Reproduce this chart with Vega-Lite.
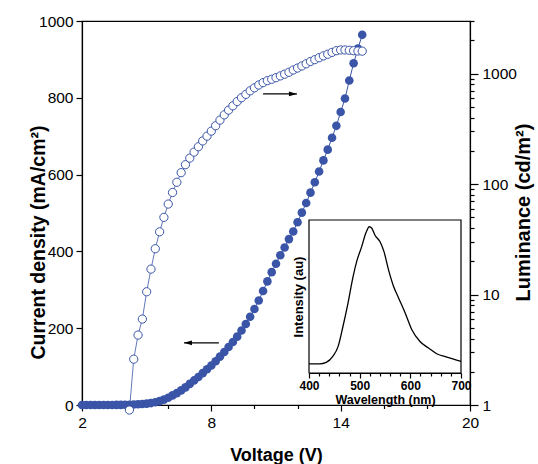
{
  "$schema": "https://vega.github.io/schema/vega-lite/v6.json",
  "width": 388,
  "height": 384,
  "autosize": {"type": "none"},
  "padding": {"left": 82, "top": 21, "right": 68, "bottom": 59},
  "background": "white",
  "config": {
    "view": {"stroke": "black", "strokeWidth": 1.2},
    "axis": {
      "grid": false,
      "domainColor": "black",
      "domainWidth": 1.2,
      "tickColor": "black",
      "tickWidth": 1.2,
      "labelColor": "black",
      "titleColor": "black",
      "labelFont": "Liberation Sans",
      "titleFont": "Liberation Sans",
      "titleFontWeight": "bold",
      "labelFontSize": 15.5,
      "labelOverlap": false
    }
  },
  "datasets": {
    "jv": [
      {"V": 2.0, "J": 0}, {"V": 2.2, "J": 0}, {"V": 2.4, "J": 0}, {"V": 2.6, "J": 0}, {"V": 2.8, "J": 0},
      {"V": 3.0, "J": 0.1}, {"V": 3.2, "J": 0.1}, {"V": 3.4, "J": 0.1}, {"V": 3.6, "J": 0.2}, {"V": 3.8, "J": 0.3},
      {"V": 4.0, "J": 0.5}, {"V": 4.2, "J": 0.8}, {"V": 4.4, "J": 1.2}, {"V": 4.6, "J": 1.8}, {"V": 4.8, "J": 2.5},
      {"V": 5.0, "J": 3.5}, {"V": 5.2, "J": 5}, {"V": 5.4, "J": 7}, {"V": 5.6, "J": 10}, {"V": 5.8, "J": 14},
      {"V": 6.0, "J": 19}, {"V": 6.2, "J": 25}, {"V": 6.4, "J": 31}, {"V": 6.6, "J": 38}, {"V": 6.8, "J": 46},
      {"V": 7.0, "J": 55}, {"V": 7.2, "J": 64}, {"V": 7.4, "J": 73}, {"V": 7.6, "J": 83}, {"V": 7.8, "J": 93},
      {"V": 8.0, "J": 103}, {"V": 8.2, "J": 114}, {"V": 8.4, "J": 126}, {"V": 8.6, "J": 138}, {"V": 8.8, "J": 151},
      {"V": 9.0, "J": 164}, {"V": 9.2, "J": 178}, {"V": 9.4, "J": 194}, {"V": 9.6, "J": 211}, {"V": 9.8, "J": 230},
      {"V": 10.0, "J": 250}, {"V": 10.2, "J": 272}, {"V": 10.4, "J": 297}, {"V": 10.6, "J": 322}, {"V": 10.8, "J": 346},
      {"V": 11.0, "J": 368}, {"V": 11.2, "J": 390}, {"V": 11.4, "J": 410}, {"V": 11.6, "J": 432}, {"V": 11.8, "J": 452},
      {"V": 12.0, "J": 476}, {"V": 12.2, "J": 501}, {"V": 12.4, "J": 526}, {"V": 12.6, "J": 553}, {"V": 12.8, "J": 580},
      {"V": 13.0, "J": 608}, {"V": 13.2, "J": 637}, {"V": 13.4, "J": 665}, {"V": 13.6, "J": 696}, {"V": 13.8, "J": 727},
      {"V": 14.0, "J": 763}, {"V": 14.2, "J": 798}, {"V": 14.4, "J": 845}, {"V": 14.6, "J": 890}, {"V": 14.8, "J": 928},
      {"V": 15.0, "J": 964}
    ],
    "lv": [
      {"V": 4.2, "L": 0.9}, {"V": 4.4, "L": 2.6}, {"V": 4.6, "L": 4.3}, {"V": 4.8, "L": 6.0},
      {"V": 5.0, "L": 10.6}, {"V": 5.2, "L": 17}, {"V": 5.4, "L": 26}, {"V": 5.6, "L": 37}, {"V": 5.8, "L": 50},
      {"V": 6.0, "L": 66}, {"V": 6.2, "L": 84}, {"V": 6.4, "L": 104}, {"V": 6.6, "L": 127}, {"V": 6.8, "L": 150},
      {"V": 7.0, "L": 172}, {"V": 7.2, "L": 195}, {"V": 7.4, "L": 218}, {"V": 7.6, "L": 246}, {"V": 7.8, "L": 272},
      {"V": 8.0, "L": 302}, {"V": 8.2, "L": 338}, {"V": 8.4, "L": 380}, {"V": 8.6, "L": 424}, {"V": 8.8, "L": 468},
      {"V": 9.0, "L": 512}, {"V": 9.2, "L": 560}, {"V": 9.4, "L": 606}, {"V": 9.6, "L": 650}, {"V": 9.8, "L": 700},
      {"V": 10.0, "L": 745}, {"V": 10.2, "L": 790}, {"V": 10.4, "L": 830}, {"V": 10.6, "L": 865}, {"V": 10.8, "L": 890},
      {"V": 11.0, "L": 920}, {"V": 11.2, "L": 955}, {"V": 11.4, "L": 990}, {"V": 11.6, "L": 1030}, {"V": 11.8, "L": 1080},
      {"V": 12.0, "L": 1125}, {"V": 12.2, "L": 1175}, {"V": 12.4, "L": 1230}, {"V": 12.6, "L": 1290}, {"V": 12.8, "L": 1340},
      {"V": 13.0, "L": 1395}, {"V": 13.2, "L": 1450}, {"V": 13.4, "L": 1500}, {"V": 13.6, "L": 1560}, {"V": 13.8, "L": 1615},
      {"V": 14.0, "L": 1640}, {"V": 14.2, "L": 1640}, {"V": 14.4, "L": 1630}, {"V": 14.6, "L": 1615}, {"V": 14.8, "L": 1605},
      {"V": 15.0, "L": 1600}
    ],
    "arrowJ": [{"V": 6.73, "V2": 8.35, "J": 162}],
    "arrowL": [{"V": 11.97, "V2": 10.4, "L": 656}],
    "frame": [{"W": 400, "W2": 700, "I": 0, "I2": 1}],
    "spec": [
      {"W": 400, "I": 0.059}, {"W": 421, "I": 0.059}, {"W": 434, "I": 0.069}, {"W": 447, "I": 0.108},
      {"W": 457.5, "I": 0.174}, {"W": 467, "I": 0.304}, {"W": 477, "I": 0.457}, {"W": 487, "I": 0.63},
      {"W": 495, "I": 0.739}, {"W": 504, "I": 0.826}, {"W": 512, "I": 0.913}, {"W": 519, "I": 0.956},
      {"W": 524, "I": 0.946}, {"W": 530, "I": 0.902}, {"W": 540, "I": 0.859}, {"W": 548, "I": 0.793},
      {"W": 557, "I": 0.674}, {"W": 567, "I": 0.565}, {"W": 577, "I": 0.489}, {"W": 590, "I": 0.391},
      {"W": 603, "I": 0.283}, {"W": 619, "I": 0.206}, {"W": 636, "I": 0.163}, {"W": 652, "I": 0.126},
      {"W": 672, "I": 0.104}, {"W": 700, "I": 0.076}
    ]
  },
  "layer": [
    {
      "layer": [
        {
          "data": {"name": "jv"},
          "mark": {"type": "line", "color": "#3a55a8", "strokeWidth": 1},
          "encoding": {
            "x": {
              "field": "V", "type": "quantitative",
              "scale": {"domain": [2, 20], "nice": false, "zero": false},
              "axis": {
                "orient": "bottom",
                "title": "Voltage (V)",
                "titleFontSize": 18,
                "titleBaseline": "alphabetic",
                "titleAlign": "center",
                "titleY": 55,
                "values": [2,3,4,5,6,7,8,9,10,11,12,13,14,15,16,17,18,19,20],
                "labelExpr": "datum.value % 6 == 2 ? datum.label : ''",
                "tickSize": {"condition": {"test": "datum.value % 6 == 2", "value": 6}, "value": 3.5},
                "labelPadding": 4,
                "labelFlush": false,
                "labelOverlap": false
              }
            },
            "y": {
              "field": "J", "type": "quantitative",
              "scale": {"domain": [0, 1000], "nice": false},
              "axis": {
                "orient": "left",
                "title": "Current density (mA/cm²)",
                "titleFontSize": 19.5,
                "titleAngle": 270,
                "titleBaseline": "middle",
                "titleAlign": "center",
                "titleX": -44,
                "titleY": 221,
                "values": [0,100,200,300,400,500,600,700,800,900,1000],
                "format": "d",
                "labelExpr": "datum.value % 200 == 0 ? datum.label : ''",
                "tickSize": {"condition": {"test": "datum.value % 200 == 0", "value": 6}, "value": 3.5},
                "labelPadding": 3,
                "labelFlush": false,
                "labelOverlap": false
              }
            }
          }
        },
        {
          "data": {"name": "jv"},
          "mark": {"type": "point", "filled": true, "color": "#3a55a8", "size": 74, "opacity": 1},
          "encoding": {
            "x": {"field": "V", "type": "quantitative"},
            "y": {"field": "J", "type": "quantitative"}
          }
        },
        {
          "data": {"name": "arrowJ"},
          "mark": {"type": "rule", "color": "black", "strokeWidth": 1.3},
          "encoding": {
            "x": {"field": "V", "type": "quantitative"},
            "x2": {"field": "V2"},
            "y": {"field": "J", "type": "quantitative"}
          }
        },
        {
          "data": {"name": "arrowJ"},
          "mark": {"type": "point", "filled": true, "color": "black", "opacity": 1, "size": 64, "shape": "M0,0L2,-0.6L2,0.6Z"},
          "encoding": {
            "x": {"field": "V", "type": "quantitative"},
            "y": {"field": "J", "type": "quantitative"}
          }
        }
      ]
    },
    {
      "layer": [
        {
          "data": {"name": "lv"},
          "mark": {"type": "line", "color": "#3a55a8", "strokeWidth": 0.8},
          "encoding": {
            "x": {"field": "V", "type": "quantitative", "scale": {"domain": [2, 20], "nice": false, "zero": false}, "axis": null},
            "y": {
              "field": "L", "type": "quantitative",
              "scale": {"type": "log", "domain": [1, 3000], "nice": false},
              "axis": {
                "orient": "right",
                "title": "Luminance (cd/m²)",
                "titleFontSize": 20,
                "titleAngle": 270,
                "titleBaseline": "middle",
                "titleAlign": "center",
                "titleX": 53,
                "titleY": 191,
                "values": [1,2,3,4,5,6,7,8,9,10,20,30,40,50,60,70,80,90,100,200,300,400,500,600,700,800,900,1000,2000,3000],
                "format": "d",
                "labelExpr": "(datum.value == 1 || datum.value == 10 || datum.value == 100 || datum.value == 1000) ? datum.label : ''",
                "tickSize": {"condition": {"test": "datum.value == 1 || datum.value == 10 || datum.value == 100 || datum.value == 1000", "value": 8}, "value": 4},
                "labelPadding": 4,
                "labelFlush": false,
                "labelOverlap": false
              }
            }
          }
        },
        {
          "data": {"name": "lv"},
          "mark": {"type": "point", "filled": true, "fill": "white", "stroke": "#3a55a8", "strokeWidth": 1, "size": 68, "opacity": 1},
          "encoding": {
            "x": {"field": "V", "type": "quantitative", "axis": null},
            "y": {"field": "L", "type": "quantitative"}
          }
        },
        {
          "data": {"name": "arrowL"},
          "mark": {"type": "rule", "color": "black", "strokeWidth": 1.3},
          "encoding": {
            "x": {"field": "V", "type": "quantitative", "axis": null},
            "x2": {"field": "V2"},
            "y": {"field": "L", "type": "quantitative"}
          }
        },
        {
          "data": {"name": "arrowL"},
          "mark": {"type": "point", "filled": true, "color": "black", "opacity": 1, "size": 64, "shape": "M0,0L-2,-0.6L-2,0.6Z"},
          "encoding": {
            "x": {"field": "V", "type": "quantitative", "axis": null},
            "y": {"field": "L", "type": "quantitative"}
          }
        }
      ]
    },
    {
      "layer": [
        {
          "data": {"name": "frame"},
          "mark": {"type": "rect", "opacity": 0},
          "encoding": {
            "x": {
              "field": "W", "type": "quantitative",
              "scale": {"domain": [400, 700], "range": [227, 379], "nice": false, "zero": false},
              "axis": {
                "orient": "bottom",
                "offset": -32,
                "title": null,
                "values": [420,440,460,480,520,540,560,580,620,640,660,680],
                "labels": false,
                "domain": false,
                "tickSize": 3
              }
            },
            "x2": {"field": "W2"},
            "y": {"field": "I", "type": "quantitative", "scale": {"domain": [0, 1], "range": [352, 199], "nice": false}, "axis": null},
            "y2": {"field": "I2"}
          }
        },
        {
          "layer": [
            {
              "data": {"name": "frame"},
              "mark": {"type": "rect", "fill": "white", "stroke": "black", "strokeWidth": 1.2},
              "encoding": {
                "x": {
                  "field": "W", "type": "quantitative",
                  "scale": {"domain": [400, 700], "range": [227, 379], "nice": false, "zero": false},
                  "axis": {
                    "orient": "bottom",
                    "offset": -32,
                    "title": "Wavelength (nm)",
                    "titleFontSize": 12.5,
                    "titlePadding": 2,
                    "values": [400, 500, 600, 700],
                    "tickSize": 5,
                    "labelFontSize": 12,
                    "labelFontWeight": "bold",
                    "labelPadding": 2,
                    "labelFlush": false,
                    "labelOverlap": false
                  }
                },
                "x2": {"field": "W2"},
                "y": {
                  "field": "I", "type": "quantitative",
                  "scale": {"domain": [0, 1], "range": [352, 199], "nice": false},
                  "axis": {
                    "orient": "left",
                    "offset": -227,
                    "title": "Intensity (au)",
                    "titleFontSize": 13,
                    "titlePadding": 4,
                    "domain": false,
                    "ticks": false,
                    "labels": false
                  }
                },
                "y2": {"field": "I2"}
              }
            },
            {
              "data": {"name": "spec"},
              "mark": {"type": "line", "color": "black", "strokeWidth": 1.3, "interpolate": "monotone"},
              "encoding": {
                "x": {"field": "W", "type": "quantitative"},
                "y": {"field": "I", "type": "quantitative"}
              }
            }
          ]
        }
      ],
      "resolve": {"scale": {"x": "independent", "y": "independent"}}
    }
  ],
  "resolve": {"scale": {"x": "independent", "y": "independent"}}
}
